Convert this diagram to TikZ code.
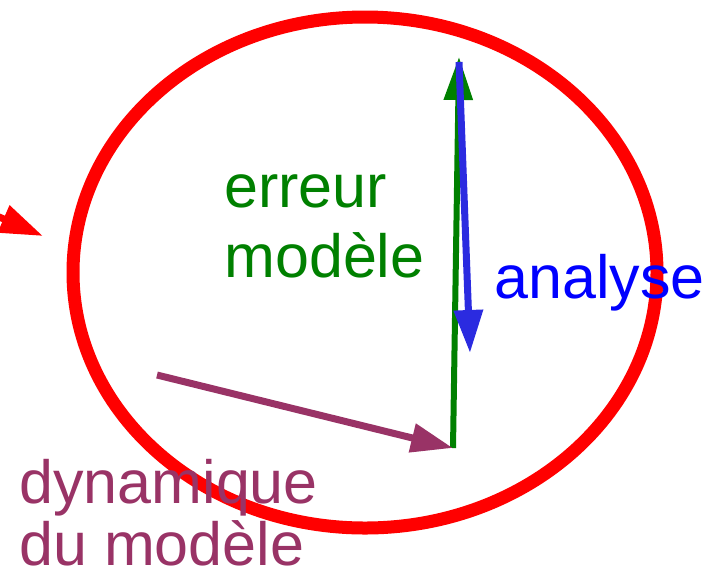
\documentclass[tikz,border=0pt]{standalone}
\usepackage{fontspec}
\setmainfont{Liberation Sans}
\usepackage{xcolor}
\usetikzlibrary{positioning,arrows.meta,calc}
\definecolor{axRed}{HTML}{FF0000}
\definecolor{axGreen}{HTML}{008000}
\definecolor{axBlue}{HTML}{0000FF}
\definecolor{axBlueArr}{HTML}{2B2BE0}
\definecolor{axPurple}{HTML}{993366}
\tikzset{
  orbit/.style={draw=axRed, line width=6.5pt},
  arrg/.style={-{Triangle[length=21.5pt, width=14pt]}, line width=3pt, axGreen},
  arrb/.style={-{Triangle[length=21.5pt, width=14pt]}, line width=3.5pt, axBlueArr},
  arrp/.style={-{Triangle[length=21pt, width=14pt]}, line width=3.5pt, axPurple},
  arrr/.style={-{Triangle[length=21.5pt, width=14pt]}, line width=3.5pt, axRed},
  lbl/.style={inner sep=0pt, anchor=base west, align=left, font=\fontsize{30.5pt}{35pt}\selectfont},
}
\begin{document}
\begin{tikzpicture}[x=0.5pt, y=-0.5pt]
  \useasboundingbox (0,0) rectangle (717,580);
  \clip (0,0) rectangle (717,580);
  % cycle
  \draw[orbit] (365,272.5) ellipse [x radius=292, y radius=255.5];
  \coordinate (rin0) at (-40,200);
  \coordinate (rin1) at (43,236);
  \draw[arrr] (rin0) -- (rin1);
  % forecast, model error, analysis
  \coordinate (fc) at (157,375);
  \coordinate (xf) at (453,448);
  \coordinate (xm) at (459,57);
  \coordinate (xb) at (459,62);
  \coordinate (xa) at (470,353);
  \draw[arrg] (xf) -- (xm);
  \draw[arrb] (xb) -- (xa);
  \draw[arrp] (fc) -- (xf);
  % labels (base = last line)
  \node[lbl, text=axGreen] (err) at (224,277) {erreur\\modèle};
  \node[lbl, text=axBlue] (ana) at (494,298) {analyse};
  \node[lbl, text=axPurple, font=\fontsize{30.5pt}{31pt}\selectfont] (dyn) at (19,565) {dynamique\\du modèle};
\end{tikzpicture}
\end{document}
